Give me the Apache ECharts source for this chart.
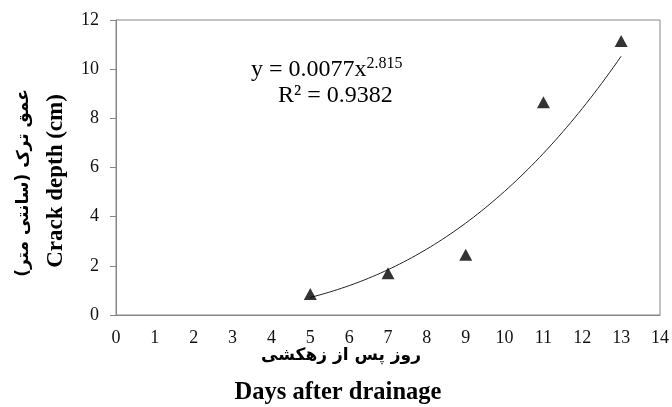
<!DOCTYPE html>
<html>
<head>
<meta charset="utf-8">
<script src="https://cdn.jsdelivr.net/npm/echarts@6/dist/echarts.min.js"></script>
<style>html,body{margin:0;padding:0;background:#fff;}#c{width:672px;height:407px;}</style>
</head>
<body>
<div id="c"></div>
<script>
// Observed data (days after drainage, crack depth in cm)
const days = [5, 7, 9, 11, 13];
const crackDepth = [0.85, 1.7, 2.45, 8.65, 11.15];
// Power trendline shown on the chart: y = a * x^b
const trendA = 0.0077;
const trendB = 2.815;
const trendFrom = 5;
const trendTo = 13;
const equationText = 'y = 0.0077x';
const equationExp = '2.815';
const r2Text = 'R² = 0.9382';
const yTitleFa = 'عمق ترک (سانتی متر)';
const yTitleEn = 'Crack depth (cm)';
const xTitleFa = 'روز پس از زهکشی';
const xTitleEn = 'Days after drainage';

const points = days.map((d, i) => [d, crackDepth[i]]);
const trend = [];
for (let i = 0; i <= 80; i++) {
  const x = trendFrom + (trendTo - trendFrom) * i / 80;
  trend.push([x, trendA * Math.pow(x, trendB)]);
}

const serif = '"Liberation Serif", "Times New Roman", serif';
const faFont = '"DejaVu Sans", "Noto Sans", sans-serif';
const axisGray = '#868686';

const chart = echarts.init(document.getElementById('c'), null, {renderer: 'canvas'});
chart.setOption({
  animation: false,
  grid: {left: 116, right: 9, top: 20, bottom: 92, show: true, borderColor: axisGray, borderWidth: 1, containLabel: false},
  xAxis: {
    type: 'value', min: 0, max: 14, interval: 1,
    axisLine: {show: true, lineStyle: {color: axisGray, width: 1}},
    axisTick: {show: false},
    splitLine: {show: false},
    axisLabel: {color: '#111', fontFamily: serif, fontSize: 18, margin: 14}
  },
  yAxis: {
    type: 'value', min: 0, max: 12, interval: 2,
    axisLine: {show: true, lineStyle: {color: axisGray, width: 1}},
    axisTick: {show: true, length: 6, lineStyle: {color: axisGray}},
    splitLine: {show: false},
    axisLabel: {color: '#111', fontFamily: serif, fontSize: 18, margin: 17}
  },
  series: [
    {
      type: 'line', data: trend, showSymbol: false, smooth: false,
      lineStyle: {color: '#222', width: 1}, z: 2
    },
    {
      type: 'scatter', data: points, symbol: 'triangle', symbolSize: [13, 12],
      itemStyle: {color: '#000'}, z: 3
    }
  ],
  graphic: [
    {
      type: 'text', left: 251, top: 56,
      style: {
        text: '{m|' + equationText + '}{s|' + equationExp + '}',
        rich: {
          m: {fontFamily: serif, fontSize: 24, fill: '#000', verticalAlign: 'bottom'},
          s: {fontFamily: serif, fontSize: 16, fill: '#000', verticalAlign: 'top', padding: [0, 0, 10, 0]}
        }
      }
    },
    {
      type: 'text', left: 278, top: 84,
      style: {text: r2Text, fontFamily: serif, fontSize: 24, fill: '#000'}
    },
    {
      type: 'text', x: 24, y: 183, rotation: Math.PI / 2,
      style: {text: yTitleFa, fontFamily: faFont, fontWeight: 'bold', fontSize: 17, fill: '#000', align: 'center', verticalAlign: 'middle'}
    },
    {
      type: 'text', x: 56, y: 181, rotation: Math.PI / 2,
      style: {text: yTitleEn, fontFamily: serif, fontWeight: 'bold', fontSize: 23, fill: '#000', align: 'center', verticalAlign: 'middle'}
    },
    {
      type: 'text', x: 341, y: 356,
      style: {text: xTitleFa, fontFamily: faFont, fontWeight: 'bold', fontSize: 17, fill: '#000', align: 'center', verticalAlign: 'middle'}
    },
    {
      type: 'text', x: 338, y: 393,
      style: {text: xTitleEn, fontFamily: serif, fontWeight: 'bold', fontSize: 24.5, fill: '#000', align: 'center', verticalAlign: 'middle'}
    }
  ]
});
</script>
</body>
</html>
